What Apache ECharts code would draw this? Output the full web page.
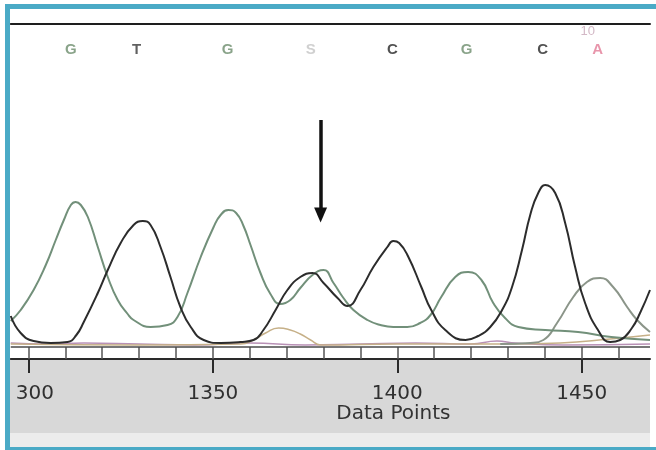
<!DOCTYPE html>
<html><head><meta charset="utf-8">
<script src="https://cdn.jsdelivr.net/npm/echarts@6/dist/echarts.min.js"></script>
<style>html,body{margin:0;padding:0;background:#fff}#c{width:656px;height:450px}</style>
</head><body><div id="c"></div>
<script>
// ---- data ----
const tickLabels = [1300, 1350, 1400, 1450];
const minorTicks = [1300,1310,1320,1330,1340,1350,1360,1370,1380,1390,1400,1410,1420,1430,1440,1450,1460];
const baseCalls = ['G','T','G','S','C','G','C','A'];
const basePositions = [1311.5, 1329.3, 1354.0, 1376.5, 1398.7, 1418.8, 1439.4, 1454.3];
const baseLevel = 297;
const qualityText = '10';
const qualityPosition = 1451.6;
const qualityLevel = 316;
const arrowPosition = 1379.2;
const arrowFrom = 227;
const arrowTo = 132;

const greenTrace = [[1295.2,26],[1297.9,37],[1301.4,57],[1304.7,82],[1307.4,107],[1309.6,127],[1311.5,142],[1312.8,145],[1314.2,142],[1316.1,130],[1318.8,100],[1321.5,70],[1324.2,47],[1326.9,33],[1328.5,27],[1333.1,20],[1337.7,22],[1340.4,30],[1343.1,54],[1346.7,90],[1350.2,120],[1352.1,132],[1354.2,137],[1356.3,134],[1358.3,121],[1360.2,102],[1362.9,74],[1365.6,53],[1368.3,43],[1371.0,47],[1373.7,59],[1377.0,72],[1380.0,77],[1382.7,64],[1385.4,49],[1388.1,37],[1391.9,27],[1395.4,22],[1398.9,20],[1402.7,20],[1406.2,24],[1409.0,32],[1411.9,50],[1415.7,70],[1419.2,75],[1422.8,67],[1426.0,44],[1429.2,29],[1432.8,20],[1440.1,17],[1449.0,15],[1458.0,10],[1468.5,7]];
const darkTrace = [[1295.2,31],[1297.9,14],[1301.4,6],[1306.0,4],[1310.6,5],[1313.0,12],[1315.0,25],[1318.8,54],[1321.5,77],[1325.0,104],[1328.5,122],[1331.0,126],[1333.1,122],[1335.8,100],[1338.5,70],[1341.2,40],[1344.0,20],[1347.5,7],[1352.1,4],[1357.5,5],[1361.0,7],[1363.7,17],[1367.0,37],[1370.2,57],[1373.7,70],[1377.0,74],[1380.0,64],[1383.8,49],[1386.5,41],[1390.0,57],[1393.5,80],[1397.3,100],[1398.9,106],[1400.5,104],[1403.0,90],[1406.5,60],[1409.2,37],[1413.0,17],[1418.5,7],[1421.9,11],[1425.2,20],[1428.4,37],[1431.1,60],[1433.8,97],[1436.1,133],[1438.2,154],[1440.1,162],[1442.8,154],[1445.5,124],[1448.2,80],[1450.9,44],[1454.4,17],[1457.7,5],[1460.4,7],[1463.6,19],[1465.8,34],[1468.5,57]];
const greyTrace = [[1427.9,3],[1436.1,4],[1439.6,7],[1443.3,24],[1447.7,50],[1451.4,65],[1455.0,69],[1458.5,60],[1462.3,40],[1465.0,27],[1468.5,15]];
const tanTrace = [[1295.2,3],[1330,2],[1357.5,3],[1361.0,7],[1364.3,14],[1367.8,19],[1371.0,17],[1373.7,13],[1376.5,7],[1379.2,2],[1400,3],[1430,3],[1444.2,4],[1457.7,8],[1468.5,12]];
const pinkTrace = [[1295.2,4],[1305,3],[1315,4],[1330,3],[1345,2],[1360,4],[1375,2],[1390,3],[1405,4],[1420,3],[1427,6],[1432,4],[1445,2],[1468.5,3]];

// ---- styles ----
const baseColors = {G:'#6c8c6c', T:'#383838', S:'#c4c4c4', C:'#262626', A:'#e27a96'};
const XMIN = 1295.2, XMAX = 1468.5;

const chart = echarts.init(document.getElementById('c'), null, {renderer:'canvas'});

function traceSeries(name, data, color, width) {
  return {name, type:'line', data, showSymbol:false, smooth:0.5, silent:true,
    lineStyle:{color, width}, z:3};
}

const labelData = baseCalls.map((b, i) => ({
  value:[basePositions[i], baseLevel], name:b,
  label:{color:baseColors[b]}
}));
labelData.push({value:[qualityPosition, qualityLevel], name:qualityText,
  label:{color:'#c8a6b8', fontSize:13, fontWeight:'normal'}});

const option = {
  animation:false,
  backgroundColor:'#ffffff',
  grid:{left:10, right:6, top:24, bottom:91, show:false},
  xAxis:[
    {type:'value', min:XMIN, max:XMAX, position:'bottom',
      name:'Data Points', nameLocation:'middle', nameGap:45, nameMoveOverlap:false,
      nameTextStyle:{fontFamily:'DejaVu Sans', fontSize:20, color:'#333', padding:[0,0,0,126]},
      axisLine:{show:true, onZero:false, lineStyle:{color:'#2a2a2a', width:2}},
      axisTick:{show:true, customValues:tickLabels, length:14, lineStyle:{color:'#2a2a2a', width:2}},
      axisLabel:{customValues:tickLabels, margin:25, fontFamily:'DejaVu Sans', fontSize:20, color:'#303030',
        formatter:v => String(v)},
      splitLine:{show:false}},
    {type:'value', min:XMIN, max:XMAX, position:'bottom',
      axisLine:{show:false, onZero:false},
      axisTick:{show:true, inside:true, customValues:minorTicks, length:12, lineStyle:{color:'#555', width:1.5}},
      axisLabel:{show:false}, splitLine:{show:false}},
    {type:'value', min:XMIN, max:XMAX, position:'top',
      axisLine:{show:true, onZero:false, lineStyle:{color:'#1e1e1e', width:2}},
      axisTick:{show:false}, axisLabel:{show:false}, splitLine:{show:false}}
  ],
  yAxis:{type:'value', min:-12, max:323, show:false, splitLine:{show:false}},
  series:[
    Object.assign(traceSeries('pink', pinkTrace, '#b991b6', 1.5), {
      markLine:{silent:true, symbol:['none','none'], label:{show:false},
        lineStyle:{color:'#4a4a4a', width:1.5, type:'solid'}, data:[{yAxis:0}]}
    }),
    traceSeries('tan', tanTrace, '#c6b088', 1.5),
    traceSeries('grey', greyTrace, '#8b9589', 2),
    traceSeries('green', greenTrace, '#72907a', 2),
    Object.assign(traceSeries('dark', darkTrace, '#2c2c2c', 2), {
      markLine:{silent:true, symbol:['none','triangle'], symbolSize:[13,15], label:{show:false},
        lineStyle:{color:'#111', width:3.5, type:'solid'},
        data:[[{coord:[arrowPosition, arrowFrom]}, {coord:[arrowPosition, arrowTo]}]]}
    }),
    {type:'scatter', data:labelData, symbolSize:0, silent:true, z:5,
      label:{show:true, position:'inside', formatter:p => p.name,
        fontFamily:'Liberation Sans', fontWeight:'bold', fontSize:15}}
  ],
  graphic:[
    {type:'rect', z:-1, shape:{x:10, y:360, width:640, height:73}, style:{fill:'#d8d8d8'}},
    {type:'rect', z:-1, shape:{x:10, y:433, width:640, height:14}, style:{fill:'#ececec'}},
    {type:'rect', zlevel:1, shape:{x:10, y:380, width:5, height:26}, style:{fill:'#d8d8d8'}},
    {type:'rect', zlevel:1, shape:{x:0, y:0, width:5, height:450}, style:{fill:'#ffffff'}},
    {type:'rect', zlevel:1, shape:{x:7.5, y:6.5, width:700, height:443}, style:{fill:'none', stroke:'#4aaac6', lineWidth:5}}
  ]
};
chart.setOption(option);
</script></body></html>
